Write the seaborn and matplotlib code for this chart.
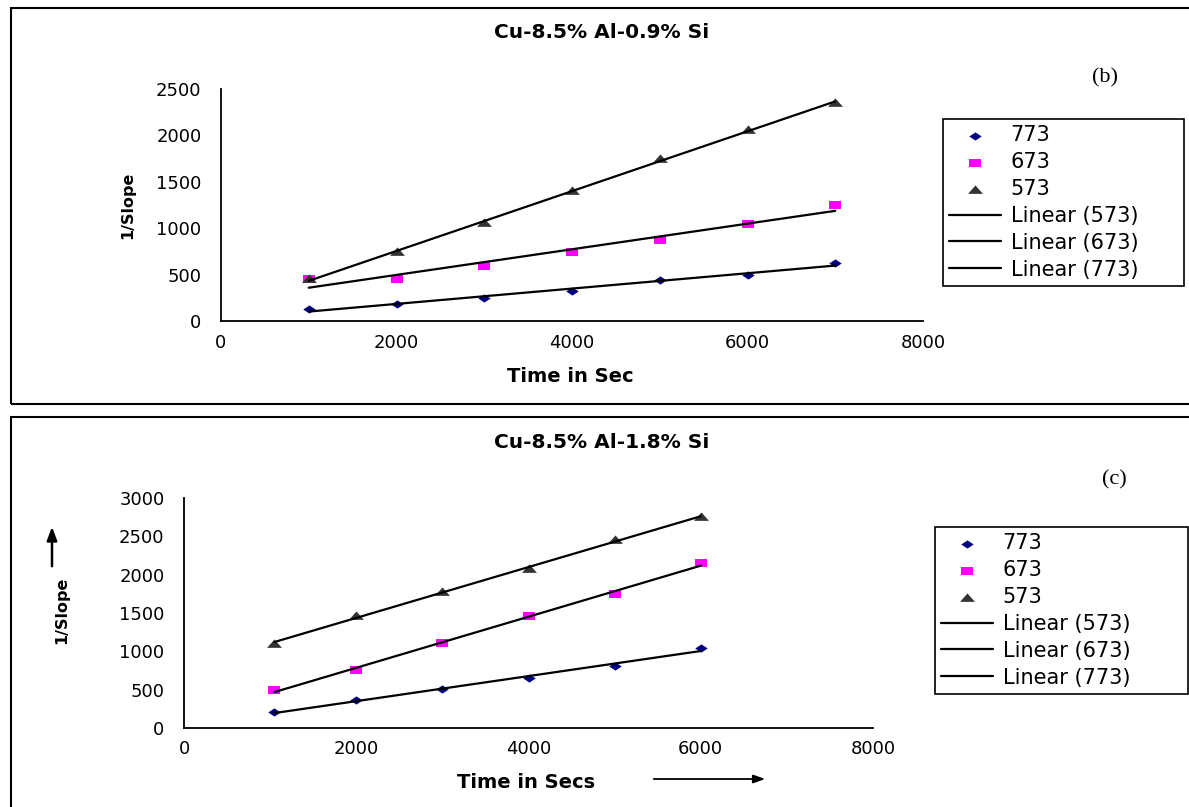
import matplotlib
matplotlib.use("Agg")
import matplotlib.pyplot as plt
import seaborn as sns
import numpy as np
import pandas as pd
from matplotlib.path import Path
from matplotlib.patches import Rectangle

# ---------------- data ----------------
time_b = [1000, 2000, 3000, 4000, 5000, 6000, 7000]
b_773 = [129, 186, 244, 322, 441, 497, 627]
b_673 = [448, 455, 595, 739, 878, 1048, 1247]
b_573 = [448, 739, 1061, 1398, 1742, 2058, 2350]

time_c = [1050, 2000, 3000, 4000, 5000, 6000]
c_773 = [204, 366, 505, 649, 815, 1042]
c_673 = [497, 763, 1107, 1457, 1754, 2147]
c_573 = [1099, 1461, 1780, 2076, 2452, 2749]

series_labels = ["773", "673", "573"]
title_b = "Cu-8.5% Al-0.9% Si"
title_c = "Cu-8.5% Al-1.8% Si"
xticks = [0, 2000, 4000, 6000, 8000]
yticks_b = [0, 500, 1000, 1500, 2000, 2500]
yticks_c = [0, 500, 1000, 1500, 2000, 2500, 3000]

# ---------------- style ----------------
sns.set_style("white")
plt.rcParams["font.family"] = ["DejaVu Sans"]
plt.rcParams["text.color"] = "black"
plt.rcParams["axes.labelcolor"] = "black"
plt.rcParams["xtick.color"] = "black"
plt.rcParams["ytick.color"] = "black"

W, H = 1189, 807
fig = plt.figure(figsize=(W / 100, H / 100), dpi=100)

# custom (wide) markers
diamond = Path([(-1, 0), (0, 0.66), (1, 0), (0, -0.66), (-1, 0)],
               [Path.MOVETO, Path.LINETO, Path.LINETO, Path.LINETO, Path.CLOSEPOLY])
square = Path([(-1, -0.58), (1, -0.58), (1, 0.58), (-1, 0.58), (-1, -0.58)],
              [Path.MOVETO, Path.LINETO, Path.LINETO, Path.LINETO, Path.CLOSEPOLY])
triangle = Path([(-1, -0.45), (1, -0.45), (0, 0.68), (-1, -0.45)],
                [Path.MOVETO, Path.LINETO, Path.LINETO, Path.CLOSEPOLY])

styles = {
    "773": dict(marker=diamond, color="#000080", s=80),
    "673": dict(marker=square, color="#FF00FF", s=85),
    "573": dict(marker=triangle, color="#333333", s=115),
}


def fpx(x, y):
    return x / W, 1 - y / H


def panel(rect, t, ys, yticks, ylim, xlabel, xlab_pos, ylab_pos, leg_rect):
    ax = fig.add_axes(rect)
    df = pd.DataFrame({"t": t})
    for lab, vals in zip(series_labels, ys):
        df[lab] = vals
    handles = {}
    for lab in series_labels:
        st = styles[lab]
        sns.scatterplot(data=df, x="t", y=lab, marker=st["marker"], s=st["s"],
                        color=st["color"], edgecolor=st["color"], linewidth=0,
                        ax=ax, zorder=3)
        handles[lab] = ax.collections[-1]
    for lab in ["573", "673", "773"]:
        sns.regplot(data=df, x="t", y=lab, scatter=False, ci=None, truncate=True,
                    color="black", line_kws={"lw": 1.6, "zorder": 4}, ax=ax)
        handles[f"Linear ({lab})"] = ax.lines[-1]
    ax.set_xlim(0, 8000)
    ax.set_ylim(*ylim)
    ax.set_xticks(xticks)
    ax.set_yticks(yticks)
    for s in ["top", "right"]:
        ax.spines[s].set_visible(False)
    for s in ["left", "bottom"]:
        ax.spines[s].set_color("black")
        ax.spines[s].set_linewidth(1.3)
    ax.tick_params(axis="both", direction="out", length=5, width=1.2, color="black",
                   labelsize=13, labelcolor="black")
    ax.tick_params(axis="y", pad=9)
    ax.tick_params(axis="x", pad=4)
    ax.set_xlabel(xlabel, fontsize=14, fontweight="bold", va="center", color="black")
    ax.set_ylabel("1/Slope", fontsize=11.5, fontweight="bold", va="center", ha="center",
                  color="black")
    ax.xaxis.set_label_coords(*xlab_pos)
    ax.yaxis.set_label_coords(*ylab_pos)
    ax.set_facecolor("none")

    order = ["773", "673", "573", "Linear (573)", "Linear (673)", "Linear (773)"]
    leg = ax.legend([handles[o] for o in order], order, loc="upper left",
                    bbox_to_anchor=leg_rect, bbox_transform=fig.transFigure,
                    mode="expand", borderaxespad=0, fontsize=15, frameon=True,
                    fancybox=False, edgecolor="black", framealpha=1,
                    labelspacing=0.33, borderpad=0.3, handlelength=2.5,
                    handletextpad=0.45, labelcolor="black")
    leg.get_frame().set_linewidth(1.2)
    return ax


# top panel (b)
ax_b = panel([221 / W, 1 - 321 / H, (923 - 221) / W, (321 - 89) / H],
             time_b, [b_773, b_673, b_573], yticks_b, (0, 2500), "Time in Sec",
             ((570 - 221) / (923 - 221), -(376 - 321) / (321 - 89)),
             ((128 - 221) / (923 - 221), 0.5),
             (943 / W, 1 - 288 / H, (1184 - 943) / W, (288 - 119) / H))

# bottom panel (c)
ax_c = panel([184 / W, 1 - 728 / H, (873 - 184) / W, (728 - 498) / H],
             time_c, [c_773, c_673, c_573], yticks_c, (0, 3000), "Time in Secs",
             ((526 - 184) / (873 - 184), -(782 - 728) / (728 - 498)),
             ((62 - 184) / (873 - 184), (728 - 610) / (728 - 498)),
             (935 / W, 1 - 696 / H, (1188 - 935) / W, (696 - 527) / H))

# titles and panel letters
fig.text(*fpx(602, 33), title_b, ha="center", va="center", fontsize=14.5,
         fontweight="bold", color="black")
fig.text(*fpx(602, 443), title_c, ha="center", va="center", fontsize=14.5,
         fontweight="bold", color="black")
fig.text(*fpx(1105, 78), "(b)", ha="center", va="center", fontsize=16,
         family=["Liberation Serif", "DejaVu Serif"], color="black")
fig.text(*fpx(1114, 480), "(c)", ha="center", va="center", fontsize=16,
         family=["Liberation Serif", "DejaVu Serif"], color="black")

# arrows on the bottom panel
fig.add_artist(matplotlib.patches.FancyArrowPatch(
    fpx(651, 779), fpx(768, 779), transform=fig.transFigure,
    arrowstyle="-|>,head_length=7,head_width=2.5", color="black", lw=1.3))
fig.add_artist(matplotlib.patches.FancyArrowPatch(
    fpx(52, 569), fpx(52, 524), transform=fig.transFigure,
    arrowstyle="-|>,head_length=8,head_width=3", color="black", lw=1.8))

# outer frames
fig.add_artist(Rectangle(fpx(11, 404), 1.2, (404 - 8) / H, transform=fig.transFigure,
                         fill=False, edgecolor="black", lw=1.5))
fig.add_artist(Rectangle(fpx(11, 900), 1.2, (900 - 417) / H, transform=fig.transFigure,
                         fill=False, edgecolor="black", lw=1.5))

fig.savefig("out.png", dpi=100, facecolor="white")
